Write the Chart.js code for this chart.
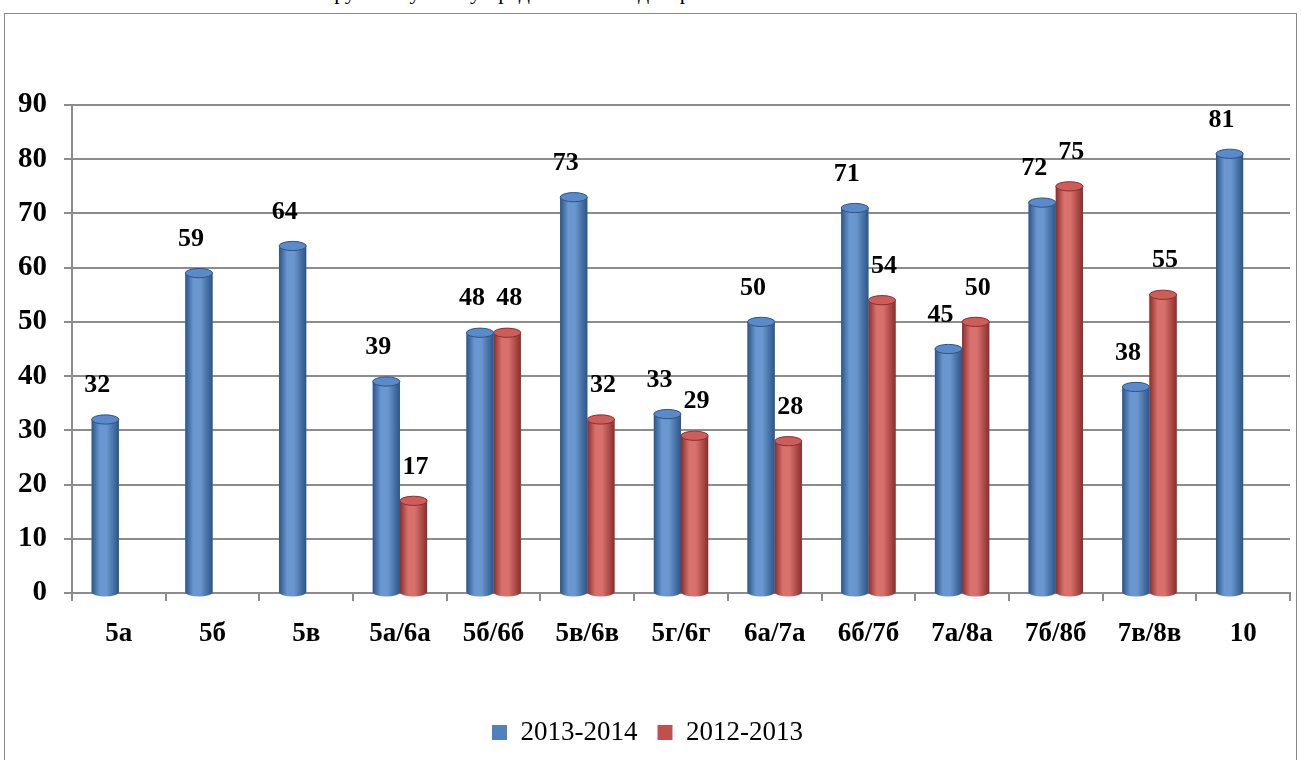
<!DOCTYPE html>
<html>
<head>
<meta charset="utf-8">
<script src="https://cdn.jsdelivr.net/npm/chart.js@4.4.0/dist/chart.umd.min.js"></script>
<style>
  html, body { margin: 0; padding: 0; background: #fff; overflow: hidden; }
  body { width: 1301px; height: 760px; position: relative; }
  #caption {
    position: absolute; left: 108px; top: -21px;
    font-family: 'Liberation Serif'; font-size: 22px; color: #000;
    white-space: nowrap;
  }
  #frame {
    position: absolute; left: 4px; top: 13px; width: 1291px; height: 760px;
    border: 1px solid #8a8a8a; background: #fff;
  }
  #wrap { position: absolute; left: 0; top: 0; width: 1291px; height: 746px; }
</style>
</head>
<body>
<div id="caption">Показатели качества по русскому языку представлены в диаграмме.</div>
<div id="frame">
  <div id="wrap"><canvas id="chart"></canvas></div>
</div>
<script>
// categories and values
const classes = ['5а', '5б', '5в', '5а/6а', '5б/6б', '5в/6в', '5г/6г', '6а/7а', '6б/7б', '7а/8а', '7б/8б', '7в/8в', '10'];
const year2013 = [32, 59, 64, 39, 48, 73, 33, 50, 71, 45, 72, 38, 81];
const year2012 = [null, null, null, 17, 48, 32, 29, 28, 54, 50, 75, 55, null];
const yTicks = [0, 10, 20, 30, 40, 50, 60, 70, 80, 90];

const serifFont = 'Liberation Serif';

// shading for the cylinder look, drawn over the bars the library placed
const cylinders = {
    id: 'cylinders',
    afterDatasetDraw(chart, args) {
        const ctx = chart.ctx;
        const meta = args.meta;
        const dark = meta.index === 0 ? '#2c5587' : '#8a2e2b';
        const light = meta.index === 0 ? '#6a97cf' : '#d8706d';
        const top = meta.index === 0 ? '#5b8aca' : '#cd5d5a';
        meta.data.forEach((bar, i) => {
            const v = chart.data.datasets[meta.index].data[i];
            if (v === null || v === undefined) return;
            const p = bar.getProps(['x', 'y', 'base', 'width'], true);
            const l = p.x - p.width / 2, r = p.x + p.width / 2;
            const ry = p.width * 0.17;
            ctx.save();
            const g = ctx.createLinearGradient(l, 0, r, 0);
            g.addColorStop(0, dark);
            g.addColorStop(0.3, light);
            g.addColorStop(0.55, light);
            g.addColorStop(1, dark);
            ctx.fillStyle = g;
            ctx.beginPath();
            ctx.moveTo(l, p.y);
            ctx.lineTo(l, p.base);
            ctx.ellipse(p.x, p.base, p.width / 2, ry, 0, Math.PI, 0, true);
            ctx.lineTo(r, p.y);
            ctx.closePath();
            ctx.fill();
            ctx.fillStyle = top;
            ctx.strokeStyle = dark;
            ctx.lineWidth = 1;
            ctx.beginPath();
            ctx.ellipse(p.x, p.y, p.width / 2, ry, 0, 0, Math.PI * 2);
            ctx.fill();
            ctx.stroke();
            ctx.restore();
        });
    }
};

// value labels above each bar
const valueLabels = {
    id: 'valueLabels',
    afterDatasetsDraw(chart) {
        const ctx = chart.ctx;
        ctx.save();
        ctx.font = 'bold 26px "' + serifFont + '"';
        ctx.fillStyle = '#000';
        ctx.textAlign = 'center';
        ctx.textBaseline = 'middle';
        chart.data.datasets.forEach((ds, di) => {
            const meta = chart.getDatasetMeta(di);
            meta.data.forEach((bar, i) => {
                const v = ds.data[i];
                if (v === null || v === undefined) return;
                const dx = di === 0 ? -8 : 2;
                ctx.fillText(String(v), bar.x + dx, bar.y - 34);
            });
        });
        ctx.restore();
    }
};

Chart.defaults.font.family = serifFont;

new Chart(document.getElementById('chart'), {
    type: 'bar',
    data: {
        labels: classes,
        datasets: [
            { label: '2013-2014', data: year2013, backgroundColor: '#4f81bd', borderWidth: 0 },
            { label: '2012-2013', data: year2012, backgroundColor: '#c0504d', borderWidth: 0 }
        ]
    },
    options: {
        responsive: true,
        maintainAspectRatio: false,
        animation: false,
        layout: { padding: { top: 91, right: 6, bottom: 4, left: 0 } },
        datasets: { bar: { barPercentage: 1, categoryPercentage: 0.58 } },
        plugins: {
            legend: {
                position: 'bottom',
                labels: {
                    font: { family: serifFont, size: 27 },
                    color: '#000',
                    boxWidth: 15,
                    boxHeight: 15,
                    padding: 20
                }
            },
            tooltip: { enabled: false }
        },
        scales: {
            x: {
                grid: { display: true, drawOnChartArea: false, color: '#8c8c8c', lineWidth: 2, tickLength: 8, offset: true },
                border: { color: '#8c8c8c', width: 2 },
                ticks: { font: { family: serifFont, size: 27, weight: 'bold' }, color: '#000', padding: 17, maxRotation: 0 },
                afterFit(s) { s.height = 106; }
            },
            y: {
                min: 0,
                max: 90,
                afterBuildTicks(s) { s.ticks = yTicks.map(v => ({ value: v })); },
                grid: { color: '#8c8c8c', lineWidth: 2, tickLength: 8 },
                border: { color: '#8c8c8c', width: 2 },
                ticks: { font: { family: serifFont, size: 29, weight: 'bold' }, color: '#000', padding: 17 },
                afterFit(s) { s.width = 67; }
            }
        }
    },
    plugins: [cylinders, valueLabels]
});
</script>
</body>
</html>
